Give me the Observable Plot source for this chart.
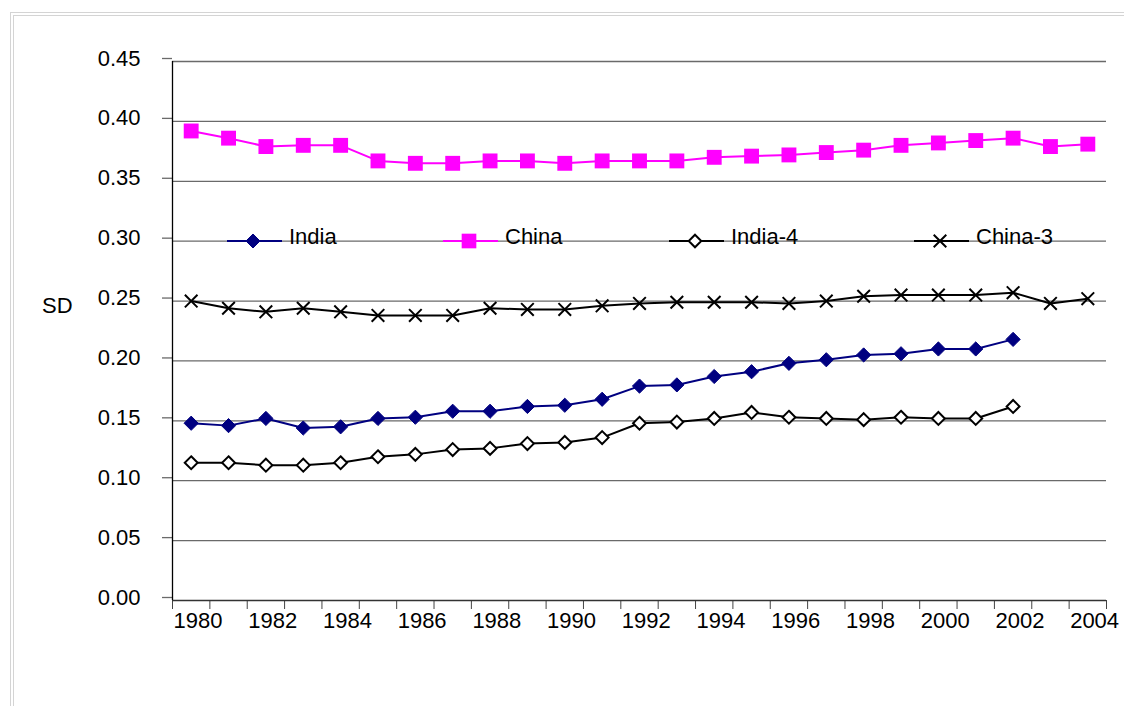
<!DOCTYPE html>
<html>
<head>
<meta charset="utf-8">
<script src="https://cdn.jsdelivr.net/npm/d3@7"></script>
<script src="https://cdn.jsdelivr.net/npm/@observablehq/plot@0.6"></script>
<style>
  html, body { margin: 0; padding: 0; background: #fff; }
  #wrap { position: relative; width: 1124px; height: 706px; overflow: hidden; font-family: "Liberation Sans", Arial, sans-serif; }
  #border { position: absolute; left: 10px; top: 12px; width: 1200px; height: 800px; border-top: 4px double #d4d4d4; border-left: 4px double #d4d4d4; box-sizing: border-box; }
  #chart, #legend { position: absolute; left: 0; top: 0; }
  #legend { pointer-events: none; }
</style>
</head>
<body>
<div id="wrap">
  <div id="border"></div>
  <div id="chart"></div>
  <svg id="legend" width="1124" height="706"></svg>
</div>
<script>
// ---- data ----
const years = [1980,1981,1982,1983,1984,1985,1986,1987,1988,1989,1990,1991,1992,1993,1994,1995,1996,1997,1998,1999,2000,2001,2002,2003,2004];
const india = [0.148,0.146,0.152,0.144,0.145,0.152,0.153,0.158,0.158,0.162,0.163,0.168,0.179,0.180,0.187,0.191,0.198,0.201,0.205,0.206,0.210,0.210,0.218];
const china = [0.392,0.386,0.379,0.380,0.380,0.367,0.365,0.365,0.367,0.367,0.365,0.367,0.367,0.367,0.370,0.371,0.372,0.374,0.376,0.380,0.382,0.384,0.386,0.379,0.381];
const india4 = [0.115,0.115,0.113,0.113,0.115,0.120,0.122,0.126,0.127,0.131,0.132,0.136,0.148,0.149,0.152,0.157,0.153,0.152,0.151,0.153,0.152,0.152,0.162];
const china3 = [0.250,0.244,0.241,0.244,0.241,0.238,0.238,0.238,0.244,0.243,0.243,0.246,0.248,0.249,0.249,0.249,0.248,0.250,0.254,0.255,0.255,0.255,0.257,0.248,0.252];
const yTicks = [0,0.05,0.10,0.15,0.20,0.25,0.30,0.35,0.40,0.45];
const labelYears = [1980,1982,1984,1986,1988,1990,1992,1994,1996,1998,2000,2002,2004];
const seriesNames = ["India","China","India-4","China-3"];

const rows = vals => vals.map((v, i) => ({year: years[i], value: v}));
const tickPos = years.map(y => y - 0.5).concat([years[years.length - 1] + 0.5]);
const labelPos = labelYears.map(y => y - 0.5);

const FONT = "Liberation Sans, Arial, sans-serif";

const chart = Plot.plot({
  width: 1124,
  height: 706,
  marginLeft: 172,
  marginRight: 18,
  marginTop: 61,
  marginBottom: 106,
  style: {fontFamily: FONT, background: "transparent", color: "#000"},
  x: {domain: [years[0] - 0.5, years[years.length - 1] + 0.5]},
  y: {domain: [0, 0.45]},
  marks: [
    Plot.ruleY(yTicks.slice(1), {stroke: "#6a6a6a", strokeWidth: 1.3}),
    Plot.axisY({ticks: yTicks, tickSize: 10, tickPadding: 22, tickFormat: d3.format(".2f"), fontSize: 22, dy: -3, stroke: "#6a6a6a", strokeWidth: 1.3, label: null}),
    Plot.axisX({ticks: tickPos, tickSize: 9, tickFormat: () => "", stroke: "#444", label: null}),
    Plot.axisX({ticks: labelPos, tickSize: 0, tickPadding: 12, tickFormat: d => String(d + 0.5), textAnchor: "start", dx: 1, fontSize: 22, label: null}),
    Plot.ruleY([0], {stroke: "#333", strokeWidth: 1.3}),
    Plot.ruleX([years[0] - 0.5], {stroke: "#000", strokeWidth: 1.3}),
    // India
    Plot.line(rows(india), {x: "year", y: "value", stroke: "#000080", strokeWidth: 2}),
    Plot.dot(rows(india), {x: "year", y: "value", symbol: "diamond2", r: 6.4, fill: "#000080", stroke: "#000080", strokeWidth: 1}),
    // China
    Plot.line(rows(china), {x: "year", y: "value", stroke: "#ff00ff", strokeWidth: 2}),
    Plot.dot(rows(china), {x: "year", y: "value", symbol: "square", r: 8.4, fill: "#ff00ff", stroke: "none"}),
    // India-4
    Plot.line(rows(india4), {x: "year", y: "value", stroke: "#000", strokeWidth: 2}),
    Plot.dot(rows(india4), {x: "year", y: "value", symbol: "diamond2", r: 5.8, fill: "#fff", stroke: "#000", strokeWidth: 2}),
    // China-3
    Plot.line(rows(china3), {x: "year", y: "value", stroke: "#000", strokeWidth: 2}),
    Plot.dot(rows(china3), {x: "year", y: "value", symbol: "times", r: 5.8, stroke: "#000", strokeWidth: 2})
  ]
});
document.getElementById("chart").appendChild(chart);

// ---- legend and axis title (overlay) ----
const leg = d3.select("#legend");
leg.append("text").attr("x", 42).attr("y", 313).attr("font-family", FONT).attr("font-size", 22).text("SD");

const legendItems = [
  {name: seriesNames[0], x0: 227, color: "#000080", sym: d3.symbolDiamond2, size: 125, fill: "#000080", sw: 1},
  {name: seriesNames[1], x0: 443, color: "#ff00ff", sym: d3.symbolSquare, size: 215, fill: "#ff00ff", sw: 0},
  {name: seriesNames[2], x0: 669, color: "#000", sym: d3.symbolDiamond2, size: 100, fill: "#fff", sw: 2},
  {name: seriesNames[3], x0: 914, color: "#000", sym: d3.symbolTimes, size: 105, fill: "none", sw: 2}
];
const ly = 241;
legendItems.forEach(it => {
  const g = leg.append("g");
  g.append("line").attr("x1", it.x0).attr("x2", it.x0 + 55).attr("y1", ly).attr("y2", ly)
    .attr("stroke", it.color).attr("stroke-width", 2);
  g.append("path").attr("d", d3.symbol(it.sym, it.size)())
    .attr("transform", `translate(${it.x0 + 26},${ly})`)
    .attr("fill", it.fill).attr("stroke", it.sw ? it.color : "none").attr("stroke-width", it.sw);
  g.append("text").attr("x", it.x0 + 62).attr("y", ly + 3)
    .attr("font-family", FONT).attr("font-size", 22).text(it.name);
});
</script>
</body>
</html>
